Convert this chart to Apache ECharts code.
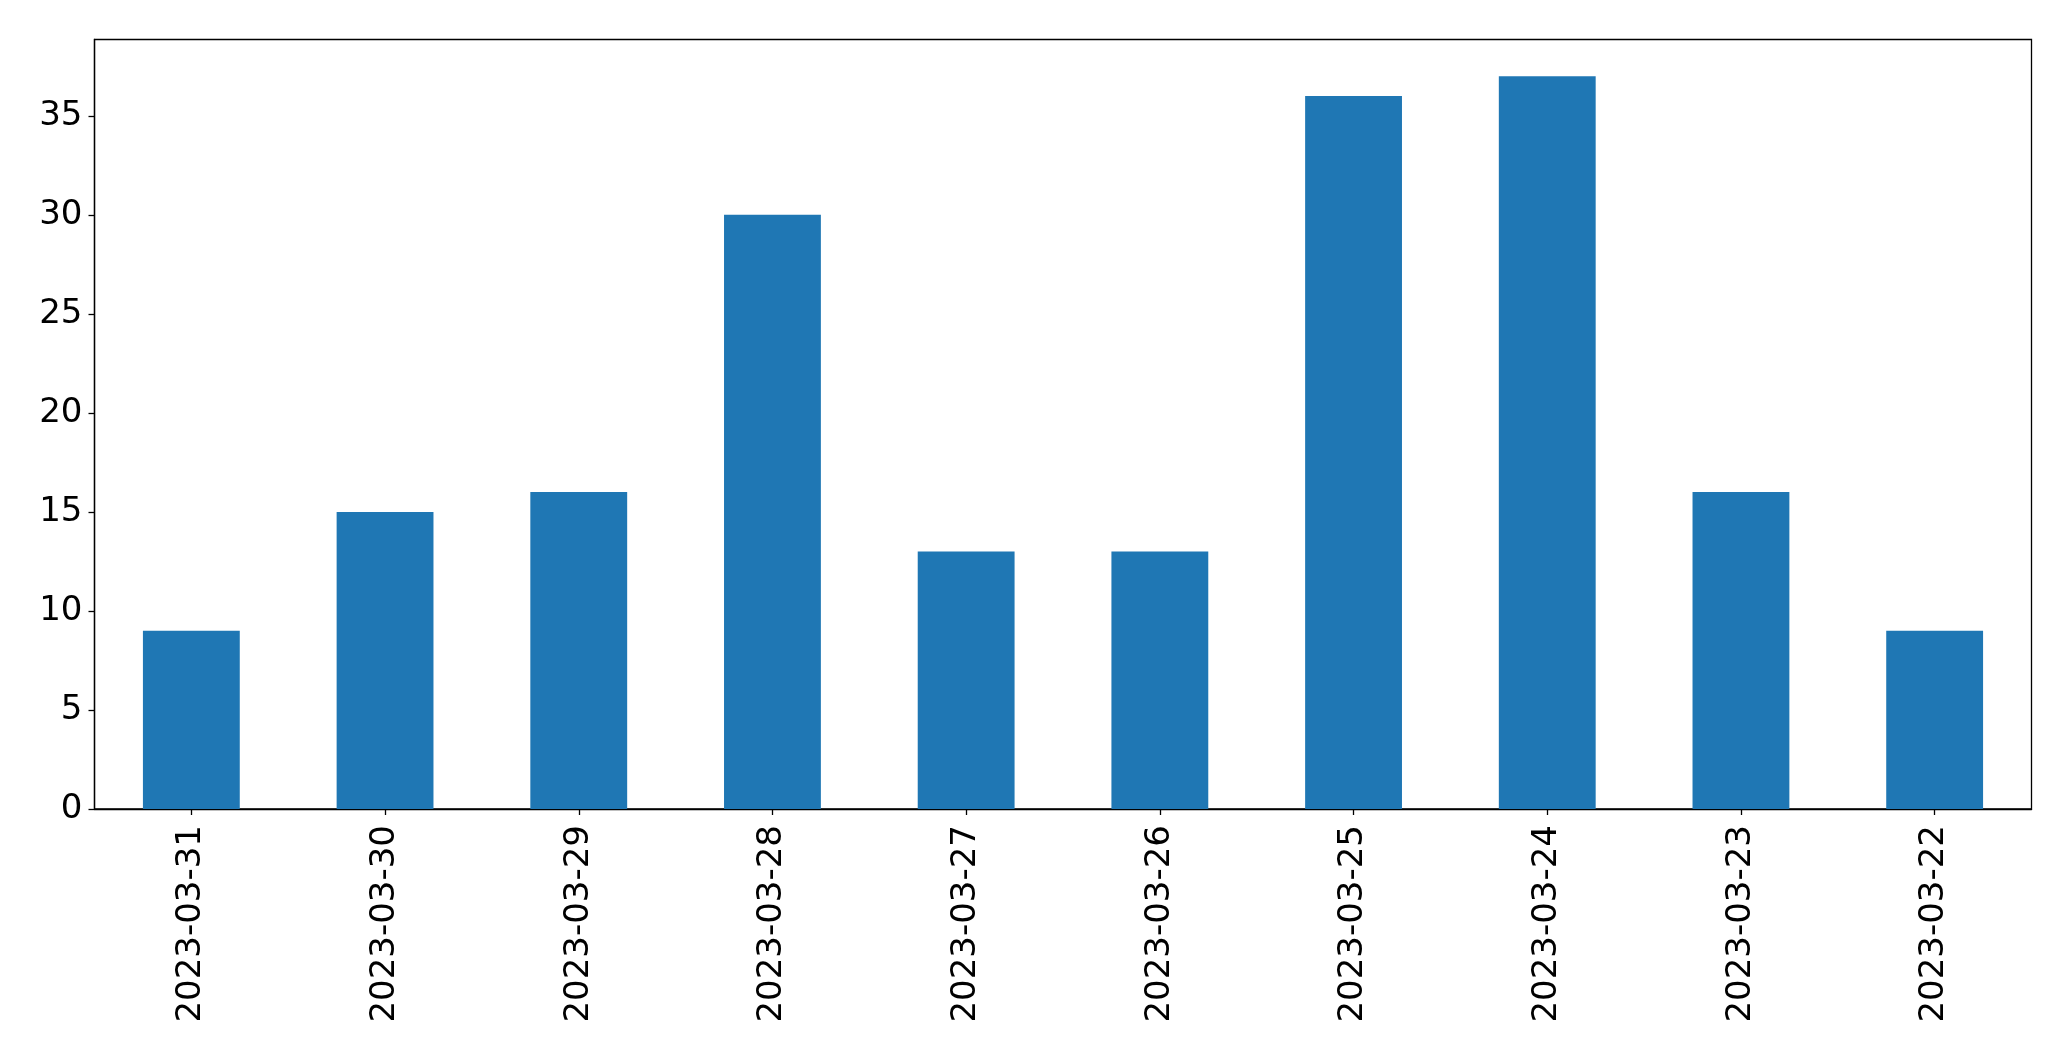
<!DOCTYPE html>
<html>
<head>
<meta charset="utf-8">
<script src="https://cdn.jsdelivr.net/npm/echarts@6/dist/echarts.min.js"></script>
<style>html,body{margin:0;padding:0;background:#fff;}#c{width:2071px;height:1061px;}</style>
</head>
<body>
<div id="c"></div>
<script>
const categories = ['2023-03-31','2023-03-30','2023-03-29','2023-03-28','2023-03-27','2023-03-26','2023-03-25','2023-03-24','2023-03-23','2023-03-22'];
const values = [9, 15, 16, 30, 13, 13, 36, 37, 16, 9];
const yTicks = [0, 5, 10, 15, 20, 25, 30, 35];

const chart = echarts.init(document.getElementById('c'), null, {renderer: 'canvas'});
const font = 'DejaVu Sans';
chart.setOption({
  animation: false,
  backgroundColor: '#fff',
  grid: {left: 94.5, right: 39.5, top: 39.5, bottom: 252, show: true, borderColor: '#000', borderWidth: 1.3, containLabel: false},
  xAxis: {
    type: 'category',
    data: categories,
    boundaryGap: true,
    axisLine: {show: true, lineStyle: {color: '#000', width: 1.3}},
    axisTick: {show: true, alignWithLabel: true, length: 6, lineStyle: {color: '#000', width: 1.3}},
    axisLabel: {rotate: 90, color: '#000', fontFamily: font, fontSize: 34, margin: 16, interval: 0},
    splitLine: {show: false}
  },
  yAxis: {
    type: 'value',
    min: 0,
    max: 38.85,
    interval: 5,
    axisLine: {show: true, lineStyle: {color: '#000', width: 1.3}},
    axisTick: {show: true, length: 6, lineStyle: {color: '#000', width: 1.3}, customValues: yTicks},
    axisLabel: {color: '#000', fontFamily: font, fontSize: 34, margin: 12, customValues: yTicks},
    splitLine: {show: false}
  },
  series: [{
    type: 'bar',
    data: values,
    barWidth: '50%',
    itemStyle: {color: '#1f77b4'}
  }]
});
</script>
</body>
</html>
